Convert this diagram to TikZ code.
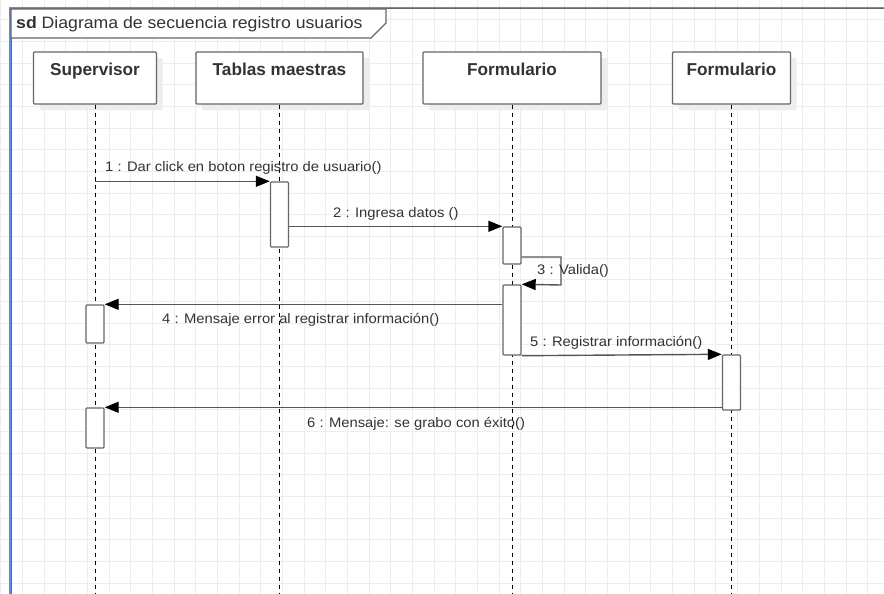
\documentclass[tikz,border=0pt]{standalone}
\usepackage{fontspec}
\setmainfont{Liberation Sans}
\newfontfamily\widefont[FakeStretch=1.07]{Liberation Sans}
\usetikzlibrary{arrows.meta,shadows}

\definecolor{umlline}{HTML}{666666}
\definecolor{msgline}{HTML}{555555}
\definecolor{gridc}{HTML}{EDEDED}
\definecolor{selblue}{HTML}{5B8DEF}
\definecolor{txt}{HTML}{333333}

\begin{document}
\begin{tikzpicture}[x=1pt,y=-1pt,
    head/.style={draw=umlline,fill=white,line width=1.4pt,rounded corners=1pt,
      font=\fontsize{17.2}{19}\selectfont\bfseries,text=txt,inner sep=0pt,
      text height=24pt,text depth=28pt,
      general shadow={fill=black!7,shadow xshift=6pt,shadow yshift=-6pt}},
    act/.style={draw=umlline,fill=white,line width=1.4pt,rounded corners=1pt,
      minimum width=18pt,inner sep=0pt},
    life/.style={black,line width=0.9pt,dash pattern=on 4pt off 4pt},
    msg/.style={draw=msgline,line width=1.4pt,-{Triangle[length=14pt,width=11pt,black]}},
    lbl/.style={font=\widefont\fontsize{13.8}{15}\selectfont,text=txt,anchor=base west,inner sep=0pt},
    gridline/.style={gridc,line width=0.9pt}]
  \useasboundingbox (0,0) rectangle (884,594);
  \fill[white] (0,0) rectangle (884,594);
  % grid paper
  \foreach \k in {-1,...,39}
    \draw[gridline] (22.5+21.67*\k,0) -- (22.5+21.67*\k,594);
  \foreach \k in {0,...,26}
    \draw[gridline] (0,19.7+21.67*\k) -- (884,19.7+21.67*\k);
  % frame and its tag
  \draw[umlline,line width=1pt] (11,594) -- (11,9) -- (884,9);
  \draw[selblue,line width=1.6pt] (10,594) -- (10,7.5) -- (884,7.5);
  \draw[umlline,fill=white,line width=1.2pt] (11,9) -- (386,9) -- (386,23)
    -- (371,38) -- (11,38) -- cycle;
  \node[anchor=base west,inner sep=0pt,text=txt,font=\widefont\fontsize{16.5}{18}\selectfont]
    (title) at (16,29) {\textbf{sd} Diagrama de secuencia registro usuarios};
  % lifeline heads
  \node[head,minimum width=123pt] (sup) at (95,78) {Supervisor};
  \node[head,minimum width=167pt] (tab) at (279.5,78) {Tablas maestras};
  \node[head,minimum width=178pt] (frm) at (512,78) {Formulario};
  \node[head,minimum width=118pt] (frm2) at (731.5,78) {Formulario};
  \foreach \n in {sup,tab,frm,frm2}
    \draw[life] (\n) -- (\n |- 0,594);
  % activations
  \node[act,minimum height=65pt] (tab1) at (tab |- 0,214.5) {};
  \node[act,minimum height=37pt] (frm1) at (frm |- 0,245.5) {};
  \node[act,minimum height=70pt] (frm3) at (frm |- 0,320) {};
  \node[act,minimum height=38pt] (sup1) at (sup |- 0,324) {};
  \node[act,minimum height=55pt] (frm4) at (frm2 |- 0,382.5) {};
  \node[act,minimum height=40pt] (sup2) at (sup |- 0,428) {};
  % messages
  \draw[msg] (sup |- tab1.north) -- (tab1.north west);
  \node[lbl] (m1) at (105,171) {1 : Dar click en boton registro de usuario()};
  \draw[msg] (tab1.east |- frm1.north) -- (frm1.north west);
  \node[lbl] (m2) at (333,217) {2 : Ingresa datos ()};
  \draw[msg] (frm1.east |- 0,257) -| (561,285) -- (frm3.north east);
  \node[lbl] (m3) at (537,274) {3 : Valida()};
  \draw[msg] (frm3.west |- sup1.north) -- (sup1.north east);
  \node[lbl] (m4) at (162,323) {4 : Mensaje error al registrar información()};
  \draw[msg] (frm3.south east) -- (frm4.north west);
  \node[lbl] (m5) at (530,346) {5 : Registrar información()};
  \draw[msg] (frm4.west |- sup2.north) -- (sup2.north east);
  \node[lbl] (m6) at (307,427) {6 : Mensaje: se grabo con éxito()};
\end{tikzpicture}
\end{document}
